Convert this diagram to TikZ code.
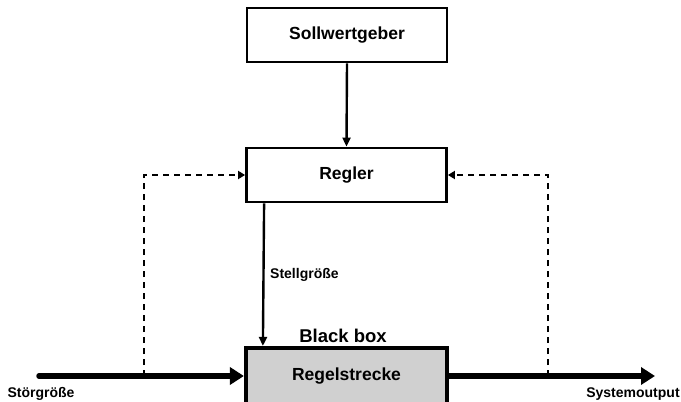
\documentclass[tikz,border=0pt]{standalone}
\usepackage{fontspec}
\setmainfont{Liberation Sans}
\usetikzlibrary{arrows.meta}
\definecolor{boxgray}{HTML}{D0D0D0}
\begin{document}
\begin{tikzpicture}[x=1pt,y=-1pt,
  block/.style={draw=black,line width=2.8pt,fill=white,minimum width=200pt,minimum height=54pt,inner sep=0pt,font=\bfseries\fontsize{17.5}{17.5}\selectfont},
  plant/.style={draw=black,line width=4.2pt,fill=boxgray,minimum width=201pt,minimum height=56pt,inner sep=0pt,font=\bfseries\fontsize{17.5}{17.5}\selectfont},
  thinarrow/.style={line width=2.4pt,-{Triangle[length=9pt,width=8pt]}},
  fatarrow/.style={line width=5.5pt,-{Triangle[length=14pt,width=17pt]}},
  dasharrow/.style={line width=2.2pt,dash pattern=on 6pt off 5pt,-{Triangle[length=7pt,width=8pt]}},
  lbl/.style={font=\bfseries\fontsize{14}{14}\selectfont,inner sep=0pt}]
\useasboundingbox (0,0) rectangle (681,402);
\clip (0,0) rectangle (681,402);
\fill[white] (0,0) rectangle (681,402);
\node[block] (soll) at (347,35) {Sollwertgeber};
\node[block] (regler) at (346.5,175) {Regler};
\node[plant] (strecke) at (346.5,376) {Regelstrecke};
\node[font=\bfseries\fontsize{18.5}{18.5}\selectfont,inner sep=0pt] (bb) at (343,336) {Black box};
\coordinate (in) at (39,376);
\coordinate (out) at (655,376);
\coordinate (dl) at (144,376);
\coordinate (dr) at (548,376);
\draw[thinarrow] (soll.south) -- (regler.north);
\draw[thinarrow] ([xshift=19pt]regler.south west) -- ([xshift=19pt]strecke.north west);
\node[lbl,anchor=west] (stell) at (270,275) {Stellgröße};
\draw[dasharrow] (dl) |- (regler.west);
\draw[dasharrow] (dr) |- (regler.east);
\draw[fatarrow,line cap=round] (in) -- (strecke.west);
\draw[fatarrow] (strecke.east) -- (out);
\node[lbl] (stoer) at (41,394) {Störgröße};
\node[lbl] (sysout) at (633,394) {Systemoutput};
\end{tikzpicture}
\end{document}
